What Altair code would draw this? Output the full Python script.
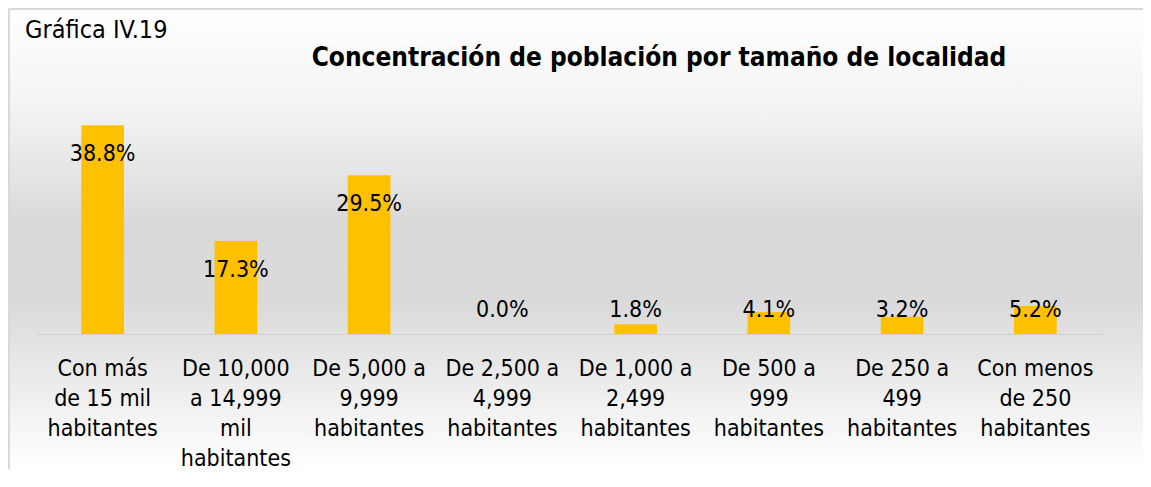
import altair as alt
import pandas as pd

categories = [
    "Con más\nde 15 mil\nhabitantes",
    "De 10,000\na 14,999\nmil\nhabitantes",
    "De 5,000 a\n9,999\nhabitantes",
    "De 2,500 a\n4,999\nhabitantes",
    "De 1,000 a\n2,499\nhabitantes",
    "De 500 a\n999\nhabitantes",
    "De 250 a\n499\nhabitantes",
    "Con menos\nde 250\nhabitantes",
]
values = [38.8, 17.3, 29.5, 0.0, 1.8, 4.1, 3.2, 5.2]

title_text = "Concentración de población por tamaño de localidad"
figure_label = "Gráfica IV.19"

FONT = "'DejaVu Sans Condensed', 'DejaVu Sans'"
W, H = 1066, 242
PL, PT, PR, PB = 28, 84, 41, 135
YMAX = 45

df = pd.DataFrame({"cat": categories, "v": values})

xenc = alt.X(
    "cat:N",
    sort=categories,
    scale=alt.Scale(paddingInner=0.68, paddingOuter=0.34),
    axis=alt.Axis(
        title=None,
        labelAngle=0,
        labelExpr="split(datum.label, '\\n')",
        labelFont=FONT,
        labelFontSize=23,
        labelColor="#000000",
        labelLineHeight=30,
        labelPadding=23,
        labelLimit=0,
        ticks=False,
        domainColor="#d0d0d0",
        domainWidth=1,
        grid=False,
        zindex=1,
    ),
)
yscale = alt.Scale(domain=[0, YMAX], nice=False)

one = alt.Data(values=[{}])

bg = alt.Chart(one).mark_rect(
    color=alt.LinearGradient(
        gradient="linear",
        stops=[
            alt.GradientStop(color="#ffffff", offset=0),
            alt.GradientStop(color="#f3f3f3", offset=0.22),
            alt.GradientStop(color="#d9d9d9", offset=0.47),
            alt.GradientStop(color="#dadada", offset=0.64),
            alt.GradientStop(color="#ffffff", offset=1),
        ],
        x1=0, x2=0, y1=0, y2=1,
    ),
    clip=False,
).encode(
    x=alt.value(-PL), x2=alt.value(W + PR),
    y=alt.value(-PT), y2=alt.value(H + PB),
)

border = alt.Chart(one).mark_rule(
    color="#d9d9d9", strokeWidth=2, clip=False
).encode(
    x=alt.value(-PL + 1), y=alt.value(-PT + 1), y2=alt.value(H + PB)
)
border_top = alt.Chart(one).mark_rule(
    color="#d9d9d9", strokeWidth=2, clip=False
).encode(
    x=alt.value(-PL), x2=alt.value(W + PR), y=alt.value(-PT + 1)
)

fig_lbl = alt.Chart(one).mark_text(
    text=figure_label, font=FONT, fontSize=25, color="#000000",
    align="left", baseline="middle", clip=False,
).encode(x=alt.value(-11), y=alt.value(-62))

title_mark = alt.Chart(one).mark_text(
    text=title_text, font=FONT, fontSize=26, fontWeight="bold", color="#000000",
    align="center", baseline="middle", clip=False,
).encode(x=alt.value(623), y=alt.value(-34))

bars = alt.Chart(df).mark_bar(color="#ffc000").encode(
    x=xenc,
    y=alt.Y("v:Q", scale=yscale, axis=None),
)

labels = alt.Chart(df).transform_calculate(
    lab_y="max(datum.v - 5.39, 4.46)",
    txt="format(datum.v, '.1f') + '%'",
).mark_text(
    font=FONT, fontSize=23, color="#000000", baseline="middle", align="center"
).encode(
    x=alt.X("cat:N", sort=categories),
    y=alt.Y("lab_y:Q", scale=yscale, axis=None),
    text="txt:N",
)

chart = alt.layer(bg, border, border_top, fig_lbl, title_mark, bars, labels).properties(
    width=W,
    height=H,
    autosize=alt.AutoSizeParams(type="none"),
    padding={"left": PL, "top": PT, "right": PR, "bottom": PB},
).configure_view(stroke=None).configure(background="#ffffff")

chart.save("out.html", embed_options={"renderer": "svg", "actions": False})
